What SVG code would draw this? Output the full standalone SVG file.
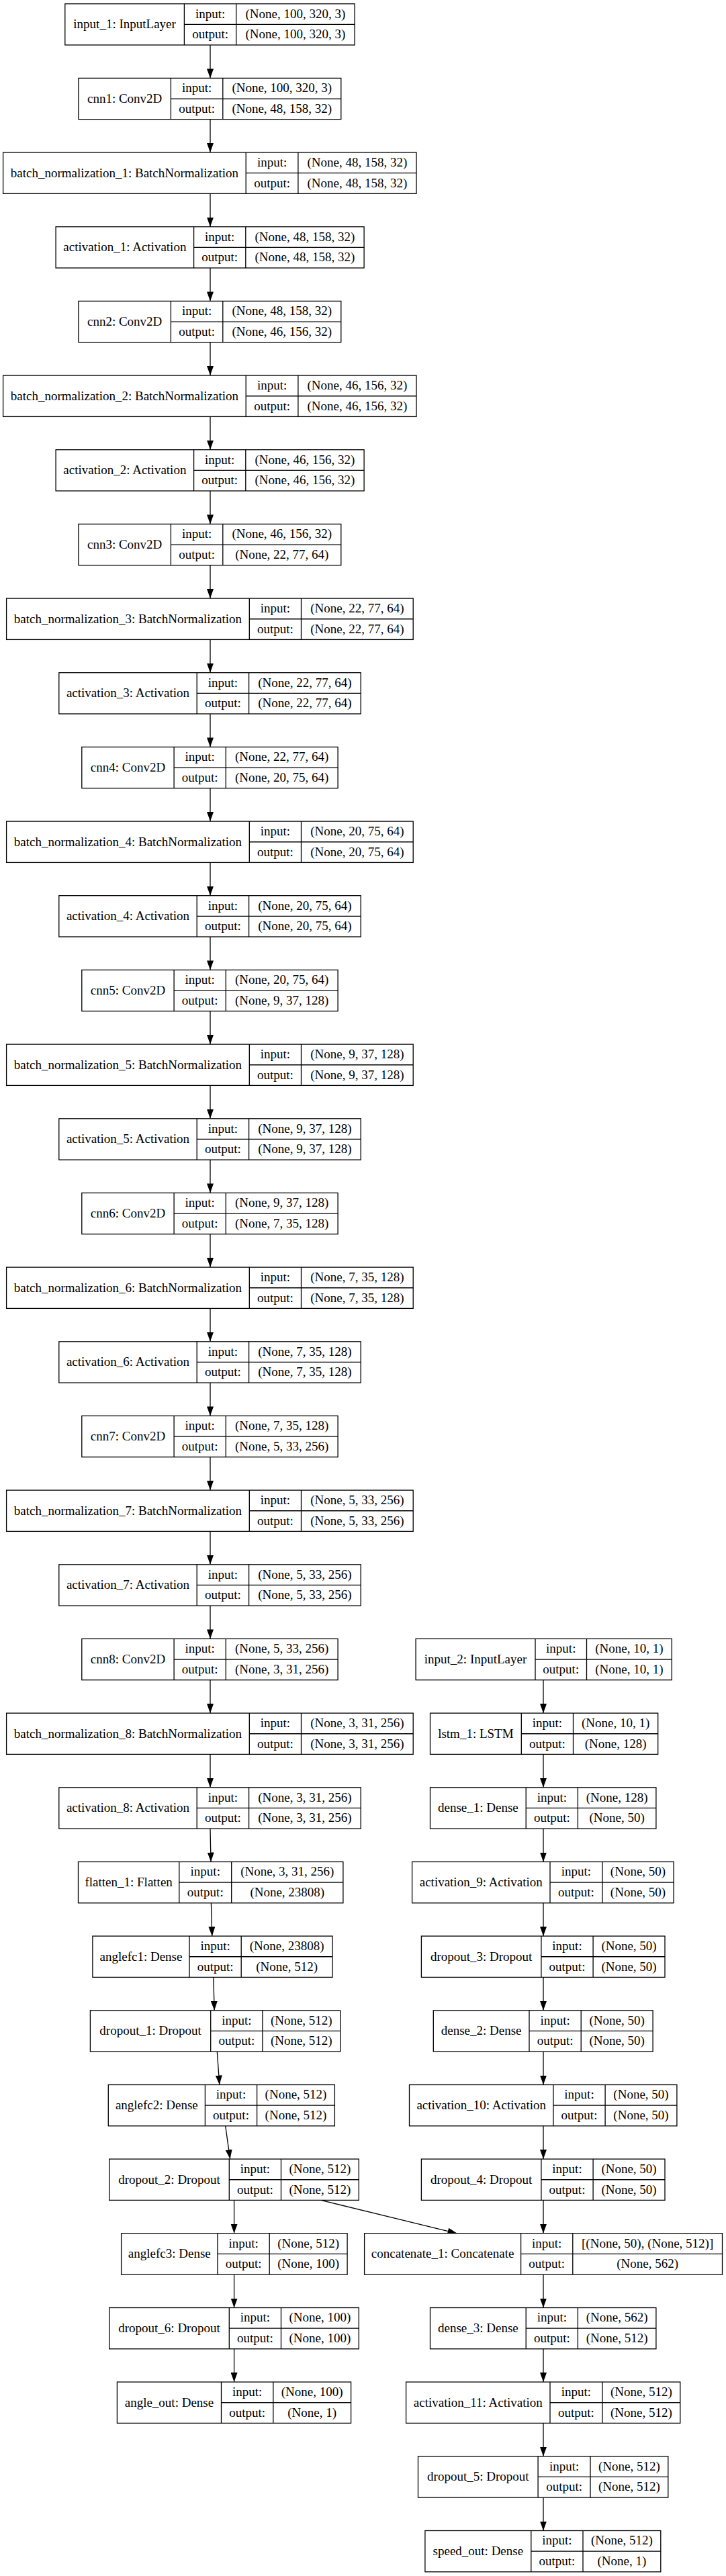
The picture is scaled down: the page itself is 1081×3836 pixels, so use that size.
<svg xmlns="http://www.w3.org/2000/svg" width="1081" height="3836" viewBox="0 0 1081 3836">
<style>
.n rect{fill:#fff;stroke:#000;stroke-width:1.3}
.n path{fill:none;stroke:#000;stroke-width:1.3}
text{font-family:"Liberation Serif","Times New Roman",serif;font-size:19px;text-anchor:middle;fill:#000}
.e path{fill:none;stroke:#000;stroke-width:1.3;marker-end:url(#arr)}
</style>
<defs>
<marker id="arr" viewBox="0 0 14 10" refX="14" refY="5" markerWidth="14" markerHeight="10" markerUnits="userSpaceOnUse" orient="auto"><path d="M0,0 L14,5 L0,10 z" fill="#000"/></marker>
</defs>
<rect x="0" y="0" width="1081" height="3836" fill="#fff"/>
<g id="edges" class="e">
<path d="M313,67 V116.4"/>
<path d="M313,177.7 V227"/>
<path d="M313,288.3 V337.7"/>
<path d="M313,399 V448.4"/>
<path d="M313,509.7 V559.1"/>
<path d="M313,620.4 V669.7"/>
<path d="M313,731 V780.4"/>
<path d="M313,841.7 V891.1"/>
<path d="M313,952.4 V1001.7"/>
<path d="M313,1063 V1112.4"/>
<path d="M313,1173.7 V1223.1"/>
<path d="M313,1284.4 V1333.7"/>
<path d="M313,1395 V1444.4"/>
<path d="M313,1505.7 V1555.1"/>
<path d="M313,1616.4 V1665.8"/>
<path d="M313,1727.1 V1776.4"/>
<path d="M313,1837.7 V1887.1"/>
<path d="M313,1948.4 V1997.8"/>
<path d="M313,2059.1 V2108.4"/>
<path d="M313,2169.7 V2219.1"/>
<path d="M313,2280.4 V2329.8"/>
<path d="M313,2391.1 V2440.4"/>
<path d="M313,2501.7 V2551.1"/>
<path d="M313,2612.4 V2661.8"/>
<path d="M313,2723.1 L314,2772.5"/>
<path d="M314.4,2833.8 L315.8,2883.1"/>
<path d="M317.8,2944.4 L319.2,2993.8"/>
<path d="M323.3,3055.1 L326.8,3104.5"/>
<path d="M335.7,3165.8 L342.6,3215.1"/>
<path d="M348.6,3276.4 V3325.8"/>
<path d="M477.8,3276.4 L680.5,3325.8"/>
<path d="M348.6,3387.1 V3436.5"/>
<path d="M348.6,3497.8 V3547.1"/>
<path d="M809,2501.7 V2551.1"/>
<path d="M809,2612.4 V2661.8"/>
<path d="M809,2723.1 V2772.5"/>
<path d="M809,2833.8 V2883.1"/>
<path d="M809,2944.4 V2993.8"/>
<path d="M809,3055.1 V3104.5"/>
<path d="M809,3165.8 V3215.1"/>
<path d="M809,3276.4 V3325.8"/>
<path d="M809,3387.1 V3436.5"/>
<path d="M809,3497.8 V3547.1"/>
<path d="M809,3608.4 V3657.8"/>
<path d="M809,3719.1 V3768.5"/>
</g>

<g id="input_1" class="n" transform="translate(0,5.7)">
<rect x="96.8" y="0" width="431.3" height="61.3"/>
<path d="M274.4,0 V61.3 M351.7,0 V61.3 M274.4,30.65 H528.1"/>
<text x="185.6" y="36.6">input_1: InputLayer</text>
<text x="313.05" y="20.9">input:</text><text x="313.05" y="51.6">output:</text>
<text x="439.9" y="20.9">(None, 100, 320, 3)</text><text x="439.9" y="51.6">(None, 100, 320, 3)</text>
</g>

<g id="cnn1" class="n" transform="translate(0,116.4)">
<rect x="116.9" y="0" width="390.9" height="61.3"/>
<path d="M254.4,0 V61.3 M331.8,0 V61.3 M254.4,30.65 H507.8"/>
<text x="185.65" y="36.6">cnn1: Conv2D</text>
<text x="293.1" y="20.9">input:</text><text x="293.1" y="51.6">output:</text>
<text x="419.8" y="20.9">(None, 100, 320, 3)</text><text x="419.8" y="51.6">(None, 48, 158, 32)</text>
</g>

<g id="batch_normalization_1" class="n" transform="translate(0,227)">
<rect x="4.6" y="0" width="615.4" height="61.3"/>
<path d="M366.2,0 V61.3 M443.9,0 V61.3 M366.2,30.65 H620"/>
<text x="185.4" y="36.6">batch_normalization_1: BatchNormalization</text>
<text x="405.05" y="20.9">input:</text><text x="405.05" y="51.6">output:</text>
<text x="531.95" y="20.9">(None, 48, 158, 32)</text><text x="531.95" y="51.6">(None, 48, 158, 32)</text>
</g>

<g id="activation_1" class="n" transform="translate(0,337.7)">
<rect x="83.1" y="0" width="459" height="61.3"/>
<path d="M288.6,0 V61.3 M365.8,0 V61.3 M288.6,30.65 H542.1"/>
<text x="185.85" y="36.6">activation_1: Activation</text>
<text x="327.2" y="20.9">input:</text><text x="327.2" y="51.6">output:</text>
<text x="453.95" y="20.9">(None, 48, 158, 32)</text><text x="453.95" y="51.6">(None, 48, 158, 32)</text>
</g>

<g id="cnn2" class="n" transform="translate(0,448.4)">
<rect x="116.9" y="0" width="390.9" height="61.3"/>
<path d="M254.4,0 V61.3 M331.8,0 V61.3 M254.4,30.65 H507.8"/>
<text x="185.65" y="36.6">cnn2: Conv2D</text>
<text x="293.1" y="20.9">input:</text><text x="293.1" y="51.6">output:</text>
<text x="419.8" y="20.9">(None, 48, 158, 32)</text><text x="419.8" y="51.6">(None, 46, 156, 32)</text>
</g>

<g id="batch_normalization_2" class="n" transform="translate(0,559.1)">
<rect x="4.6" y="0" width="615.4" height="61.3"/>
<path d="M366.2,0 V61.3 M443.9,0 V61.3 M366.2,30.65 H620"/>
<text x="185.4" y="36.6">batch_normalization_2: BatchNormalization</text>
<text x="405.05" y="20.9">input:</text><text x="405.05" y="51.6">output:</text>
<text x="531.95" y="20.9">(None, 46, 156, 32)</text><text x="531.95" y="51.6">(None, 46, 156, 32)</text>
</g>

<g id="activation_2" class="n" transform="translate(0,669.7)">
<rect x="83.1" y="0" width="459" height="61.3"/>
<path d="M288.6,0 V61.3 M365.8,0 V61.3 M288.6,30.65 H542.1"/>
<text x="185.85" y="36.6">activation_2: Activation</text>
<text x="327.2" y="20.9">input:</text><text x="327.2" y="51.6">output:</text>
<text x="453.95" y="20.9">(None, 46, 156, 32)</text><text x="453.95" y="51.6">(None, 46, 156, 32)</text>
</g>

<g id="cnn3" class="n" transform="translate(0,780.4)">
<rect x="116.9" y="0" width="390.9" height="61.3"/>
<path d="M254.4,0 V61.3 M331.8,0 V61.3 M254.4,30.65 H507.8"/>
<text x="185.65" y="36.6">cnn3: Conv2D</text>
<text x="293.1" y="20.9">input:</text><text x="293.1" y="51.6">output:</text>
<text x="419.8" y="20.9">(None, 46, 156, 32)</text><text x="419.8" y="51.6">(None, 22, 77, 64)</text>
</g>

<g id="batch_normalization_3" class="n" transform="translate(0,891.1)">
<rect x="9.6" y="0" width="605.6" height="61.3"/>
<path d="M371.3,0 V61.3 M448.5,0 V61.3 M371.3,30.65 H615.2"/>
<text x="190.45" y="36.6">batch_normalization_3: BatchNormalization</text>
<text x="409.9" y="20.9">input:</text><text x="409.9" y="51.6">output:</text>
<text x="531.85" y="20.9">(None, 22, 77, 64)</text><text x="531.85" y="51.6">(None, 22, 77, 64)</text>
</g>

<g id="activation_3" class="n" transform="translate(0,1001.7)">
<rect x="87.8" y="0" width="449.4" height="61.3"/>
<path d="M293.2,0 V61.3 M370.6,0 V61.3 M293.2,30.65 H537.2"/>
<text x="190.5" y="36.6">activation_3: Activation</text>
<text x="331.9" y="20.9">input:</text><text x="331.9" y="51.6">output:</text>
<text x="453.9" y="20.9">(None, 22, 77, 64)</text><text x="453.9" y="51.6">(None, 22, 77, 64)</text>
</g>

<g id="cnn4" class="n" transform="translate(0,1112.4)">
<rect x="121.8" y="0" width="381.3" height="61.3"/>
<path d="M259.1,0 V61.3 M336.3,0 V61.3 M259.1,30.65 H503.1"/>
<text x="190.45" y="36.6">cnn4: Conv2D</text>
<text x="297.7" y="20.9">input:</text><text x="297.7" y="51.6">output:</text>
<text x="419.7" y="20.9">(None, 22, 77, 64)</text><text x="419.7" y="51.6">(None, 20, 75, 64)</text>
</g>

<g id="batch_normalization_4" class="n" transform="translate(0,1223.1)">
<rect x="9.6" y="0" width="605.6" height="61.3"/>
<path d="M371.3,0 V61.3 M448.5,0 V61.3 M371.3,30.65 H615.2"/>
<text x="190.45" y="36.6">batch_normalization_4: BatchNormalization</text>
<text x="409.9" y="20.9">input:</text><text x="409.9" y="51.6">output:</text>
<text x="531.85" y="20.9">(None, 20, 75, 64)</text><text x="531.85" y="51.6">(None, 20, 75, 64)</text>
</g>

<g id="activation_4" class="n" transform="translate(0,1333.7)">
<rect x="87.8" y="0" width="449.4" height="61.3"/>
<path d="M293.2,0 V61.3 M370.6,0 V61.3 M293.2,30.65 H537.2"/>
<text x="190.5" y="36.6">activation_4: Activation</text>
<text x="331.9" y="20.9">input:</text><text x="331.9" y="51.6">output:</text>
<text x="453.9" y="20.9">(None, 20, 75, 64)</text><text x="453.9" y="51.6">(None, 20, 75, 64)</text>
</g>

<g id="cnn5" class="n" transform="translate(0,1444.4)">
<rect x="121.8" y="0" width="381.3" height="61.3"/>
<path d="M259.1,0 V61.3 M336.3,0 V61.3 M259.1,30.65 H503.1"/>
<text x="190.45" y="36.6">cnn5: Conv2D</text>
<text x="297.7" y="20.9">input:</text><text x="297.7" y="51.6">output:</text>
<text x="419.7" y="20.9">(None, 20, 75, 64)</text><text x="419.7" y="51.6">(None, 9, 37, 128)</text>
</g>

<g id="batch_normalization_5" class="n" transform="translate(0,1555.1)">
<rect x="9.6" y="0" width="605.6" height="61.3"/>
<path d="M371.3,0 V61.3 M448.5,0 V61.3 M371.3,30.65 H615.2"/>
<text x="190.45" y="36.6">batch_normalization_5: BatchNormalization</text>
<text x="409.9" y="20.9">input:</text><text x="409.9" y="51.6">output:</text>
<text x="531.85" y="20.9">(None, 9, 37, 128)</text><text x="531.85" y="51.6">(None, 9, 37, 128)</text>
</g>

<g id="activation_5" class="n" transform="translate(0,1665.8)">
<rect x="87.8" y="0" width="449.4" height="61.3"/>
<path d="M293.2,0 V61.3 M370.6,0 V61.3 M293.2,30.65 H537.2"/>
<text x="190.5" y="36.6">activation_5: Activation</text>
<text x="331.9" y="20.9">input:</text><text x="331.9" y="51.6">output:</text>
<text x="453.9" y="20.9">(None, 9, 37, 128)</text><text x="453.9" y="51.6">(None, 9, 37, 128)</text>
</g>

<g id="cnn6" class="n" transform="translate(0,1776.4)">
<rect x="121.8" y="0" width="381.3" height="61.3"/>
<path d="M259.1,0 V61.3 M336.3,0 V61.3 M259.1,30.65 H503.1"/>
<text x="190.45" y="36.6">cnn6: Conv2D</text>
<text x="297.7" y="20.9">input:</text><text x="297.7" y="51.6">output:</text>
<text x="419.7" y="20.9">(None, 9, 37, 128)</text><text x="419.7" y="51.6">(None, 7, 35, 128)</text>
</g>

<g id="batch_normalization_6" class="n" transform="translate(0,1887.1)">
<rect x="9.6" y="0" width="605.6" height="61.3"/>
<path d="M371.3,0 V61.3 M448.5,0 V61.3 M371.3,30.65 H615.2"/>
<text x="190.45" y="36.6">batch_normalization_6: BatchNormalization</text>
<text x="409.9" y="20.9">input:</text><text x="409.9" y="51.6">output:</text>
<text x="531.85" y="20.9">(None, 7, 35, 128)</text><text x="531.85" y="51.6">(None, 7, 35, 128)</text>
</g>

<g id="activation_6" class="n" transform="translate(0,1997.8)">
<rect x="87.8" y="0" width="449.4" height="61.3"/>
<path d="M293.2,0 V61.3 M370.6,0 V61.3 M293.2,30.65 H537.2"/>
<text x="190.5" y="36.6">activation_6: Activation</text>
<text x="331.9" y="20.9">input:</text><text x="331.9" y="51.6">output:</text>
<text x="453.9" y="20.9">(None, 7, 35, 128)</text><text x="453.9" y="51.6">(None, 7, 35, 128)</text>
</g>

<g id="cnn7" class="n" transform="translate(0,2108.4)">
<rect x="121.8" y="0" width="381.3" height="61.3"/>
<path d="M259.1,0 V61.3 M336.3,0 V61.3 M259.1,30.65 H503.1"/>
<text x="190.45" y="36.6">cnn7: Conv2D</text>
<text x="297.7" y="20.9">input:</text><text x="297.7" y="51.6">output:</text>
<text x="419.7" y="20.9">(None, 7, 35, 128)</text><text x="419.7" y="51.6">(None, 5, 33, 256)</text>
</g>

<g id="batch_normalization_7" class="n" transform="translate(0,2219.1)">
<rect x="9.6" y="0" width="605.6" height="61.3"/>
<path d="M371.3,0 V61.3 M448.5,0 V61.3 M371.3,30.65 H615.2"/>
<text x="190.45" y="36.6">batch_normalization_7: BatchNormalization</text>
<text x="409.9" y="20.9">input:</text><text x="409.9" y="51.6">output:</text>
<text x="531.85" y="20.9">(None, 5, 33, 256)</text><text x="531.85" y="51.6">(None, 5, 33, 256)</text>
</g>

<g id="activation_7" class="n" transform="translate(0,2329.8)">
<rect x="87.8" y="0" width="449.4" height="61.3"/>
<path d="M293.2,0 V61.3 M370.6,0 V61.3 M293.2,30.65 H537.2"/>
<text x="190.5" y="36.6">activation_7: Activation</text>
<text x="331.9" y="20.9">input:</text><text x="331.9" y="51.6">output:</text>
<text x="453.9" y="20.9">(None, 5, 33, 256)</text><text x="453.9" y="51.6">(None, 5, 33, 256)</text>
</g>

<g id="cnn8" class="n" transform="translate(0,2440.4)">
<rect x="121.8" y="0" width="381.3" height="61.3"/>
<path d="M259.1,0 V61.3 M336.3,0 V61.3 M259.1,30.65 H503.1"/>
<text x="190.45" y="36.6">cnn8: Conv2D</text>
<text x="297.7" y="20.9">input:</text><text x="297.7" y="51.6">output:</text>
<text x="419.7" y="20.9">(None, 5, 33, 256)</text><text x="419.7" y="51.6">(None, 3, 31, 256)</text>
</g>

<g id="batch_normalization_8" class="n" transform="translate(0,2551.1)">
<rect x="9.6" y="0" width="605.6" height="61.3"/>
<path d="M371.3,0 V61.3 M448.5,0 V61.3 M371.3,30.65 H615.2"/>
<text x="190.45" y="36.6">batch_normalization_8: BatchNormalization</text>
<text x="409.9" y="20.9">input:</text><text x="409.9" y="51.6">output:</text>
<text x="531.85" y="20.9">(None, 3, 31, 256)</text><text x="531.85" y="51.6">(None, 3, 31, 256)</text>
</g>

<g id="activation_8" class="n" transform="translate(0,2661.8)">
<rect x="87.8" y="0" width="449.4" height="61.3"/>
<path d="M293.2,0 V61.3 M370.6,0 V61.3 M293.2,30.65 H537.2"/>
<text x="190.5" y="36.6">activation_8: Activation</text>
<text x="331.9" y="20.9">input:</text><text x="331.9" y="51.6">output:</text>
<text x="453.9" y="20.9">(None, 3, 31, 256)</text><text x="453.9" y="51.6">(None, 3, 31, 256)</text>
</g>

<g id="flatten_1" class="n" transform="translate(0,2772.5)">
<rect x="116.5" y="0" width="394.4" height="61.3"/>
<path d="M266.8,0 V61.3 M344.7,0 V61.3 M266.8,30.65 H510.9"/>
<text x="191.65" y="36.6">flatten_1: Flatten</text>
<text x="305.75" y="20.9">input:</text><text x="305.75" y="51.6">output:</text>
<text x="427.8" y="20.9">(None, 3, 31, 256)</text><text x="427.8" y="51.6">(None, 23808)</text>
</g>

<g id="anglefc1" class="n" transform="translate(0,2883.1)">
<rect x="137.9" y="0" width="357.1" height="61.3"/>
<path d="M282,0 V61.3 M359.2,0 V61.3 M282,30.65 H495"/>
<text x="209.95" y="36.6">anglefc1: Dense</text>
<text x="320.6" y="20.9">input:</text><text x="320.6" y="51.6">output:</text>
<text x="427.1" y="20.9">(None, 23808)</text><text x="427.1" y="51.6">(None, 512)</text>
</g>

<g id="dropout_1" class="n" transform="translate(0,2993.8)">
<rect x="134.4" y="0" width="372.3" height="61.3"/>
<path d="M313.7,0 V61.3 M390.9,0 V61.3 M313.7,30.65 H506.7"/>
<text x="224.05" y="36.6">dropout_1: Dropout</text>
<text x="352.3" y="20.9">input:</text><text x="352.3" y="51.6">output:</text>
<text x="448.8" y="20.9">(None, 512)</text><text x="448.8" y="51.6">(None, 512)</text>
</g>

<g id="anglefc2" class="n" transform="translate(0,3104.5)">
<rect x="161.3" y="0" width="337.1" height="61.3"/>
<path d="M305.4,0 V61.3 M382.6,0 V61.3 M305.4,30.65 H498.4"/>
<text x="233.35" y="36.6">anglefc2: Dense</text>
<text x="344" y="20.9">input:</text><text x="344" y="51.6">output:</text>
<text x="440.5" y="20.9">(None, 512)</text><text x="440.5" y="51.6">(None, 512)</text>
</g>

<g id="dropout_2" class="n" transform="translate(0,3215.1)">
<rect x="162.7" y="0" width="371.6" height="61.3"/>
<path d="M341.3,0 V61.3 M418.5,0 V61.3 M341.3,30.65 H534.3"/>
<text x="252" y="36.6">dropout_2: Dropout</text>
<text x="379.9" y="20.9">input:</text><text x="379.9" y="51.6">output:</text>
<text x="476.4" y="20.9">(None, 512)</text><text x="476.4" y="51.6">(None, 512)</text>
</g>

<g id="anglefc3" class="n" transform="translate(0,3325.8)">
<rect x="180.6" y="0" width="336.5" height="61.3"/>
<path d="M324,0 V61.3 M401.2,0 V61.3 M324,30.65 H517.1"/>
<text x="252.3" y="36.6">anglefc3: Dense</text>
<text x="362.6" y="20.9">input:</text><text x="362.6" y="51.6">output:</text>
<text x="459.15" y="20.9">(None, 512)</text><text x="459.15" y="51.6">(None, 100)</text>
</g>

<g id="dropout_6" class="n" transform="translate(0,3436.5)">
<rect x="162.7" y="0" width="371.6" height="61.3"/>
<path d="M341.3,0 V61.3 M418.5,0 V61.3 M341.3,30.65 H534.3"/>
<text x="252" y="36.6">dropout_6: Dropout</text>
<text x="379.9" y="20.9">input:</text><text x="379.9" y="51.6">output:</text>
<text x="476.4" y="20.9">(None, 100)</text><text x="476.4" y="51.6">(None, 100)</text>
</g>

<g id="angle_out" class="n" transform="translate(0,3547.1)">
<rect x="174.4" y="0" width="348.2" height="61.3"/>
<path d="M329.5,0 V61.3 M406.8,0 V61.3 M329.5,30.65 H522.6"/>
<text x="251.95" y="36.6">angle_out: Dense</text>
<text x="368.15" y="20.9">input:</text><text x="368.15" y="51.6">output:</text>
<text x="464.7" y="20.9">(None, 100)</text><text x="464.7" y="51.6">(None, 1)</text>
</g>

<g id="input_2" class="n" transform="translate(0,2440.4)">
<rect x="619.1" y="0" width="381.2" height="61.3"/>
<path d="M797,0 V61.3 M873.5,0 V61.3 M797,30.65 H1000.3"/>
<text x="708.05" y="36.6">input_2: InputLayer</text>
<text x="835.25" y="20.9">input:</text><text x="835.25" y="51.6">output:</text>
<text x="936.9" y="20.9">(None, 10, 1)</text><text x="936.9" y="51.6">(None, 10, 1)</text>
</g>

<g id="lstm_1" class="n" transform="translate(0,2551.1)">
<rect x="640.5" y="0" width="339.2" height="61.3"/>
<path d="M776.3,0 V61.3 M853.5,0 V61.3 M776.3,30.65 H979.7"/>
<text x="708.4" y="36.6">lstm_1: LSTM</text>
<text x="814.9" y="20.9">input:</text><text x="814.9" y="51.6">output:</text>
<text x="916.6" y="20.9">(None, 10, 1)</text><text x="916.6" y="51.6">(None, 128)</text>
</g>

<g id="dense_1" class="n" transform="translate(0,2661.8)">
<rect x="640.5" y="0" width="336.4" height="61.3"/>
<path d="M783.2,0 V61.3 M860.4,0 V61.3 M783.2,30.65 H976.9"/>
<text x="711.85" y="36.6">dense_1: Dense</text>
<text x="821.8" y="20.9">input:</text><text x="821.8" y="51.6">output:</text>
<text x="918.65" y="20.9">(None, 128)</text><text x="918.65" y="51.6">(None, 50)</text>
</g>

<g id="activation_9" class="n" transform="translate(0,2772.5)">
<rect x="613.6" y="0" width="389.5" height="61.3"/>
<path d="M819,0 V61.3 M896.9,0 V61.3 M819,30.65 H1003.1"/>
<text x="716.3" y="36.6">activation_9: Activation</text>
<text x="857.95" y="20.9">input:</text><text x="857.95" y="51.6">output:</text>
<text x="950" y="20.9">(None, 50)</text><text x="950" y="51.6">(None, 50)</text>
</g>

<g id="dropout_3" class="n" transform="translate(0,2883.1)">
<rect x="627.4" y="0" width="362.6" height="61.3"/>
<path d="M805.9,0 V61.3 M883.1,0 V61.3 M805.9,30.65 H990"/>
<text x="716.65" y="36.6">dropout_3: Dropout</text>
<text x="844.5" y="20.9">input:</text><text x="844.5" y="51.6">output:</text>
<text x="936.55" y="20.9">(None, 50)</text><text x="936.55" y="51.6">(None, 50)</text>
</g>

<g id="dense_2" class="n" transform="translate(0,2993.8)">
<rect x="645.3" y="0" width="326.8" height="61.3"/>
<path d="M788,0 V61.3 M865.2,0 V61.3 M788,30.65 H972.1"/>
<text x="716.65" y="36.6">dense_2: Dense</text>
<text x="826.6" y="20.9">input:</text><text x="826.6" y="51.6">output:</text>
<text x="918.65" y="20.9">(None, 50)</text><text x="918.65" y="51.6">(None, 50)</text>
</g>

<g id="activation_10" class="n" transform="translate(0,3104.5)">
<rect x="609.5" y="0" width="398.4" height="61.3"/>
<path d="M823.9,0 V61.3 M901.1,0 V61.3 M823.9,30.65 H1007.9"/>
<text x="716.7" y="36.6">activation_10: Activation</text>
<text x="862.5" y="20.9">input:</text><text x="862.5" y="51.6">output:</text>
<text x="954.5" y="20.9">(None, 50)</text><text x="954.5" y="51.6">(None, 50)</text>
</g>

<g id="dropout_4" class="n" transform="translate(0,3215.1)">
<rect x="627.4" y="0" width="362.6" height="61.3"/>
<path d="M805.9,0 V61.3 M883.1,0 V61.3 M805.9,30.65 H990"/>
<text x="716.65" y="36.6">dropout_4: Dropout</text>
<text x="844.5" y="20.9">input:</text><text x="844.5" y="51.6">output:</text>
<text x="936.55" y="20.9">(None, 50)</text><text x="936.55" y="51.6">(None, 50)</text>
</g>

<g id="concatenate_1" class="n" transform="translate(0,3325.8)">
<rect x="542.6" y="0" width="532.9" height="61.3"/>
<path d="M775.6,0 V61.3 M852.8,0 V61.3 M775.6,30.65 H1075.5"/>
<text x="659.1" y="36.6">concatenate_1: Concatenate</text>
<text x="814.2" y="20.9">input:</text><text x="814.2" y="51.6">output:</text>
<text x="964.15" y="20.9">[(None, 50), (None, 512)]</text><text x="964.15" y="51.6">(None, 562)</text>
</g>

<g id="dense_3" class="n" transform="translate(0,3436.5)">
<rect x="640.5" y="0" width="336.4" height="61.3"/>
<path d="M783.2,0 V61.3 M860.4,0 V61.3 M783.2,30.65 H976.9"/>
<text x="711.85" y="36.6">dense_3: Dense</text>
<text x="821.8" y="20.9">input:</text><text x="821.8" y="51.6">output:</text>
<text x="918.65" y="20.9">(None, 562)</text><text x="918.65" y="51.6">(None, 512)</text>
</g>

<g id="activation_11" class="n" transform="translate(0,3547.1)">
<rect x="604.6" y="0" width="408.2" height="61.3"/>
<path d="M819,0 V61.3 M896.9,0 V61.3 M819,30.65 H1012.8"/>
<text x="711.8" y="36.6">activation_11: Activation</text>
<text x="857.95" y="20.9">input:</text><text x="857.95" y="51.6">output:</text>
<text x="954.85" y="20.9">(None, 512)</text><text x="954.85" y="51.6">(None, 512)</text>
</g>

<g id="dropout_5" class="n" transform="translate(0,3657.8)">
<rect x="622.5" y="0" width="372.3" height="61.3"/>
<path d="M801.1,0 V61.3 M879,0 V61.3 M801.1,30.65 H994.8"/>
<text x="711.8" y="36.6">dropout_5: Dropout</text>
<text x="840.05" y="20.9">input:</text><text x="840.05" y="51.6">output:</text>
<text x="936.9" y="20.9">(None, 512)</text><text x="936.9" y="51.6">(None, 512)</text>
</g>

<g id="speed_out" class="n" transform="translate(0,3768.5)">
<rect x="632.9" y="0" width="350.9" height="61.3"/>
<path d="M790.8,0 V61.3 M868,0 V61.3 M790.8,30.65 H983.8"/>
<text x="711.85" y="36.6">speed_out: Dense</text>
<text x="829.4" y="20.9">input:</text><text x="829.4" y="51.6">output:</text>
<text x="925.9" y="20.9">(None, 512)</text><text x="925.9" y="51.6">(None, 1)</text>
</g>
</svg>
